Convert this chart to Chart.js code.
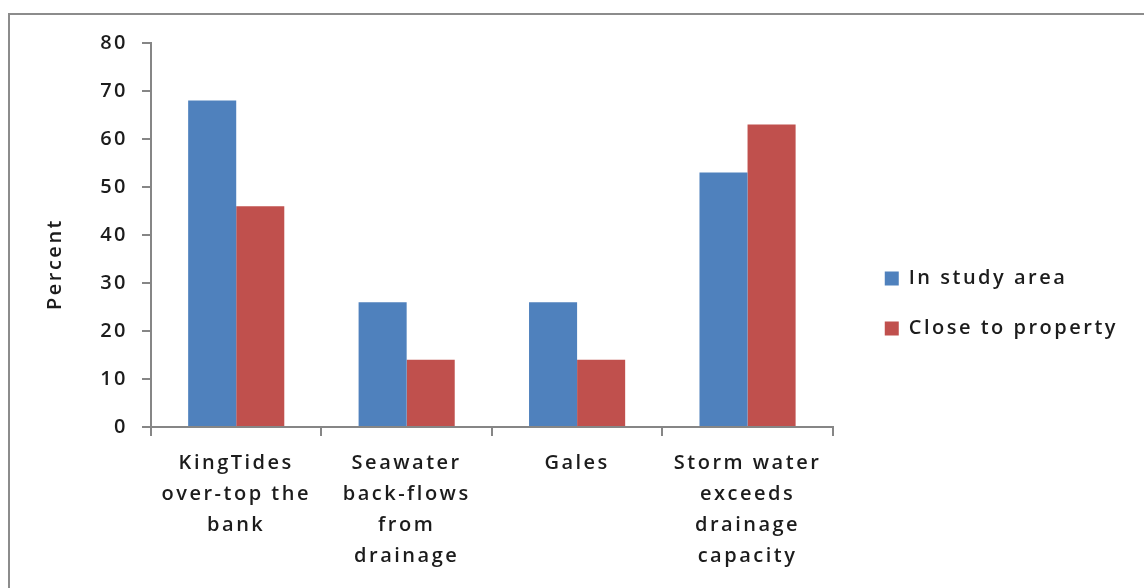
<!DOCTYPE html>
<html>
<head>
<meta charset="utf-8">
<title>Causes of flooding</title>
<script src="https://cdn.jsdelivr.net/npm/chart.js@4.4.1/dist/chart.umd.min.js"></script>
<style>
  html, body { margin: 0; padding: 0; background: #fff; }
  #wrap { position: relative; width: 1144px; height: 588px; }
</style>
</head>
<body>
<div id="wrap"><canvas id="floodChart"></canvas></div>
<script>
const categories = [
  ["KingTides", "over-top the", "bank"],
  ["Seawater", "back-flows", "from", "drainage"],
  ["Gales"],
  ["Storm water", "exceeds", "drainage", "capacity"]
];
const inStudyArea = [68, 26, 26, 53];
const closeToProperty = [46, 14, 14, 63];
const yTicks = [0, 10, 20, 30, 40, 50, 60, 70, 80];

const FONT = '"Open Sans", "DejaVu Sans", sans-serif';
const WEIGHT = 600;
const TEXT = "#1c1c1c";
const AXIS = "#868686";
const TRACKING = "2.5px";

// the old chart rendered its text with loose tracking
const spacing = {
  id: "spacing",
  beforeUpdate(chart) { chart.ctx.letterSpacing = TRACKING; },
  beforeDraw(chart) { chart.ctx.letterSpacing = TRACKING; }
};

// grey frame round the chart
const frame = {
  id: "frame",
  beforeDraw(chart) {
    const ctx = chart.ctx;
    ctx.save();
    ctx.fillStyle = "#fff";
    ctx.fillRect(0, 0, chart.width, chart.height);
    ctx.strokeStyle = "#8c8c8c";
    ctx.lineWidth = 2;
    ctx.strokeRect(9, 14, chart.width + 20, chart.height + 20);
    ctx.restore();
  }
};

// wider gap between plot and legend, legend a touch higher
const legendGap = {
  id: "legendGap",
  afterLayout(chart) {
    chart.legend.left += 22;
    chart.legend.right += 22;
    chart.legend.top -= 12;
    chart.legend.bottom -= 12;
  }
};

// y-axis title, sitting a little below the axis centre
const yTitle = {
  id: "yTitle",
  afterDraw(chart) {
    const ctx = chart.ctx;
    ctx.save();
    ctx.translate(55, 264);
    ctx.rotate(-Math.PI / 2);
    ctx.font = WEIGHT + " 20px " + FONT;
    ctx.fillStyle = TEXT;
    ctx.textAlign = "center";
    ctx.textBaseline = "middle";
    ctx.fillText("Percent", 0, 0);
    ctx.restore();
  }
};

Chart.defaults.font.family = FONT;
Chart.defaults.font.size = 20;
Chart.defaults.font.weight = WEIGHT;
Chart.defaults.color = TEXT;

new Chart(document.getElementById("floodChart"), {
  type: "bar",
  data: {
    labels: categories,
    datasets: [
      { label: "In study area", data: inStudyArea, backgroundColor: "#4f81bd" },
      { label: "Close to property", data: closeToProperty, backgroundColor: "#c0504d" }
    ]
  },
  options: {
    responsive: true,
    maintainAspectRatio: false,
    animation: false,
    categoryPercentage: 0.564,
    barPercentage: 1,
    layout: { padding: { top: 43, bottom: 0, left: 0, right: 38 } },
    plugins: {
      tooltip: { enabled: false },
      legend: {
        position: "right",
        labels: {
          boxWidth: 14,
          boxHeight: 14,
          padding: 30,
          color: TEXT,
          font: { size: 20 }
        }
      }
    },
    scales: {
      x: {
        afterFit(scale) { scale.height = 161; },
        border: { color: AXIS, width: 2 },
        grid: { offset: true, drawOnChartArea: false, tickLength: 9, color: AXIS, lineWidth: 2 },
        ticks: { color: TEXT, padding: 12, maxRotation: 0, autoSkip: false, font: { size: 20, lineHeight: 1.55 } }
      },
      y: {
        min: 0,
        max: 80,
        afterFit(scale) { scale.width = 151; },
        afterBuildTicks(scale) { scale.ticks = yTicks.map(v => ({ value: v })); },
        border: { color: AXIS, width: 2 },
        grid: { drawOnChartArea: false, tickLength: 9, color: AXIS, lineWidth: 2 },
        ticks: { color: TEXT, padding: 14, font: { size: 20 } }
      }
    }
  },
  plugins: [spacing, frame, legendGap, yTitle]
});
</script>
</body>
</html>
